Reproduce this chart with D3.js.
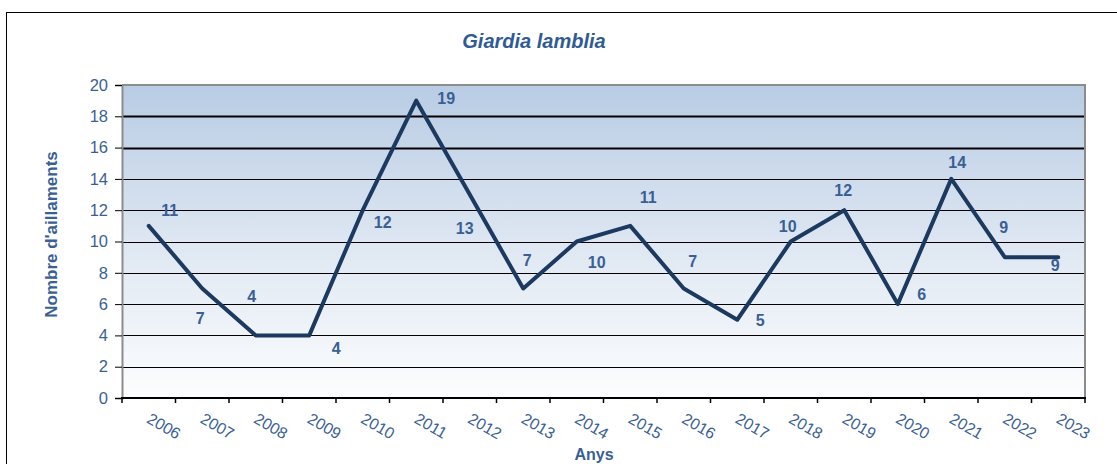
<!DOCTYPE html>
<html>
<head>
<meta charset="utf-8">
<script src="https://cdn.jsdelivr.net/npm/d3@7"></script>
<style>
  body { margin: 0; background: #fff; }
  svg { display: block; font-family: "Liberation Sans", Arial, sans-serif; }
</style>
</head>
<body>
<div id="chart"></div>
<script>
// data
const years = ["2006", "2007", "2008", "2009", "2010", "2011", "2012", "2013", "2014",
  "2015", "2016", "2017", "2018", "2019", "2020", "2021", "2022", "2023"];
const cases = [11, 7, 4, 4, 12, 19, 13, 7, 10, 11, 7, 5, 10, 12, 6, 14, 9, 9];
const yTicks = [0, 2, 4, 6, 8, 10, 12, 14, 16, 18, 20];

// where each value label sits relative to its point (like Excel placed them)
const labelOffsets = [
  [21, -15], [-2, 30], [-4, -39], [27, 13], [20, 12], [30, -2], [-5, 34], [4, -28],
  [20, 21], [18, -28], [9, -27], [23, 1], [-3, -15], [-1, -20], [24, -10], [6, -16],
  [-1, -30], [-3, 8]
];

const W = 1117, H = 464;
const margin = { left: 122, right: 32, top: 85, bottom: 66 };
const blue = "#3a5f95";

const svg = d3.select("#chart")
  .append("svg")
  .attr("width", W)
  .attr("height", H);

// outer frame, runs past the right and bottom edge
svg.append("rect")
  .attr("x", 6.5).attr("y", 12.5)
  .attr("width", W + 20).attr("height", H + 20)
  .attr("fill", "none")
  .attr("stroke", "#000")
  .attr("stroke-width", 1);

const x = d3.scaleBand()
  .domain(years)
  .range([margin.left, W - margin.right]);

const y = d3.scaleLinear()
  .domain([0, 20])
  .range([H - margin.bottom, margin.top]);

const defs = svg.append("defs");
const grad = defs.append("linearGradient")
  .attr("id", "bg")
  .attr("x1", 0).attr("y1", 0).attr("x2", 0).attr("y2", 1);
grad.append("stop").attr("offset", "0%").attr("stop-color", "#b8cce4");
grad.append("stop").attr("offset", "55%").attr("stop-color", "#e1e9f3");
grad.append("stop").attr("offset", "100%").attr("stop-color", "#fcfdfe");

const x0 = margin.left, x1 = W - margin.right;
const yTop = y(20), yBot = y(0);

svg.append("rect")
  .attr("x", x0).attr("y", yTop)
  .attr("width", x1 - x0).attr("height", yBot - yTop)
  .attr("fill", "url(#bg)");

// gridlines
svg.append("g")
  .selectAll("line")
  .data(yTicks.filter(d => d > 0 && d < 20))
  .join("line")
  .attr("x1", x0).attr("x2", x1)
  .attr("y1", d => Math.round(y(d)) + 0.5)
  .attr("y2", d => Math.round(y(d)) + 0.5)
  .attr("stroke", "#000")
  .attr("stroke-width", d => d >= 16 ? 1.8 : 1);

// top and right border in grey
svg.append("path")
  .attr("d", `M${x0},${yTop} H${x1} V${yBot}`)
  .attr("fill", "none")
  .attr("stroke", "#8c8c8c")
  .attr("stroke-width", 2);

// y axis
const yAxis = svg.append("g")
  .attr("transform", `translate(${x0},0)`)
  .call(d3.axisLeft(y).tickValues(yTicks).tickSize(7).tickPadding(7));
yAxis.select(".domain").attr("stroke", "#8c8c8c").attr("stroke-width", 2);
yAxis.selectAll(".tick line").attr("stroke", "#000");
yAxis.selectAll("text")
  .attr("fill", blue)
  .style("font-size", "16.5px");

// x axis: ticks on the category boundaries
const bounds = years.map(d => x(d)).concat([x1]);
const xAxis = svg.append("g");
xAxis.append("line")
  .attr("x1", x0 - 1).attr("x2", x1 + 1)
  .attr("y1", yBot).attr("y2", yBot)
  .attr("stroke", "#000")
  .attr("stroke-width", 2);
xAxis.selectAll("line.tk")
  .data(bounds)
  .join("line")
  .attr("class", "tk")
  .attr("x1", d => d).attr("x2", d => d)
  .attr("y1", yBot).attr("y2", yBot + 5)
  .attr("stroke", "#000")
  .attr("stroke-width", 1.5);
xAxis.selectAll("text")
  .data(years)
  .join("text")
  .attr("transform", d => `translate(${x(d) + x.bandwidth() / 2 - 3},${yBot + 24}) rotate(30)`)
  .attr("fill", blue)
  .style("font-size", "16px")
  .text(d => d);

// line
const cx = (d, i) => x(years[i]) + x.bandwidth() / 2;
const line = d3.line()
  .x(cx)
  .y(d => y(d));

svg.append("path")
  .datum(cases)
  .attr("d", line)
  .attr("fill", "none")
  .attr("stroke", "#1c3a5f")
  .attr("stroke-width", 4)
  .attr("stroke-linejoin", "round")
  .attr("stroke-linecap", "round");

// value labels
svg.append("g")
  .selectAll("text")
  .data(cases)
  .join("text")
  .attr("x", (d, i) => cx(d, i) + labelOffsets[i][0])
  .attr("y", (d, i) => y(d) + labelOffsets[i][1])
  .attr("text-anchor", "middle")
  .attr("dominant-baseline", "central")
  .attr("fill", blue)
  .style("font-size", "16px")
  .style("font-weight", "bold")
  .text(d => d);

// titles
svg.append("text")
  .attr("x", 534).attr("y", 48)
  .attr("text-anchor", "middle")
  .attr("fill", "#2f5b94")
  .style("font-size", "20px")
  .style("font-weight", "bold")
  .style("font-style", "italic")
  .text("Giardia lamblia");

svg.append("text")
  .attr("transform", `translate(57,${(yTop + yBot) / 2 - 7}) rotate(-90)`)
  .attr("text-anchor", "middle")
  .attr("fill", blue)
  .style("font-size", "17px")
  .style("font-weight", "bold")
  .text("Nombre d'aillaments");

svg.append("text")
  .attr("x", 594).attr("y", 460)
  .attr("text-anchor", "middle")
  .attr("fill", blue)
  .style("font-size", "16px")
  .style("font-weight", "bold")
  .text("Anys");
</script>
</body>
</html>
